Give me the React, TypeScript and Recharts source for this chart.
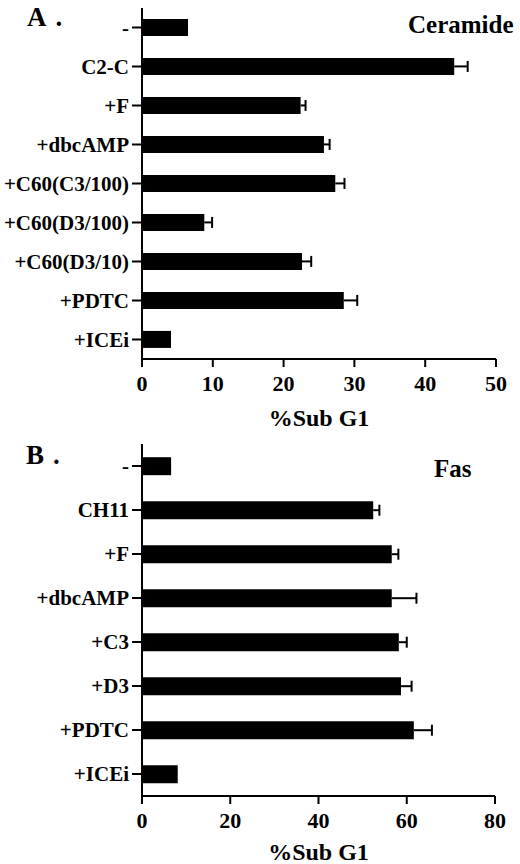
import React from "react";
import { BarChart, Bar, XAxis, YAxis, Label } from "recharts";

// Panel A: ceramide
const ceramideLabels = ["-", "C2-C", "+F", "+dbcAMP", "+C60(C3/100)", "+C60(D3/100)", "+C60(D3/10)", "+PDTC", "+ICEi"];
const ceramideValues = [6.5, 44.1, 22.4, 25.7, 27.3, 8.8, 22.6, 28.5, 4.1];
const ceramideErrors = [0, 1.9, 0.7, 0.8, 1.3, 1.1, 1.3, 1.9, 0];
const ceramideTicks = [0, 10, 20, 30, 40, 50];

// Panel B: Fas
const fasLabels = ["-", "CH11", "+F", "+dbcAMP", "+C3", "+D3", "+PDTC", "+ICEi"];
const fasValues = [6.6, 52.4, 56.6, 56.6, 58.2, 58.7, 61.6, 8.1];
const fasErrors = [0, 1.4, 1.5, 5.6, 1.8, 2.4, 4.1, 0];
const fasTicks = [0, 20, 40, 60, 80];

const font = "Liberation Serif, DejaVu Serif, Noto Serif, serif";

function buildRows(labels: string[], values: number[], errors: number[]) {
  return labels.map((name, i) => ({ name, value: values[i], err: errors[i] }));
}

// one-sided error bar: line from the bar end out to a vertical cap
function ErrorShape(props: any) {
  const { x, y, width, height } = props;
  if (!width || width <= 0) return null;
  const cy = y + height / 2;
  const end = x + width;
  return (
    <g stroke="#000" strokeWidth={2}>
      <line x1={x} y1={cy} x2={end} y2={cy} />
      <line x1={end} y1={cy - 5.5} x2={end} y2={cy + 5.5} />
    </g>
  );
}

type PanelProps = {
  rows: { name: string; value: number; err: number }[];
  ticks: number[];
  height: number;
  marginTop: number;
  marginRight: number;
  xAxisHeight: number;
  gap: string;
};

function Panel({ rows, ticks, height, marginTop, marginRight, xAxisHeight, gap }: PanelProps) {
  return (
    <BarChart
      width={520}
      height={height}
      data={rows}
      layout="vertical"
      margin={{ top: marginTop, right: marginRight, bottom: 0, left: 0 }}
      barCategoryGap={gap}
    >
      <XAxis
        type="number"
        domain={[ticks[0], ticks[ticks.length - 1]]}
        ticks={ticks}
        allowDataOverflow
        height={xAxisHeight}
        stroke="#000"
        strokeWidth={2}
        tickSize={8}
        tickMargin={8}
        tick={{ fill: "#000", fontSize: 22, fontWeight: 700, fontFamily: font }}
      >
        <Label
          value="%Sub G1"
          position="insideBottom"
          offset={4}
          style={{ fill: "#000", fontSize: 24, fontWeight: 700, fontFamily: font }}
        />
      </XAxis>
      <YAxis
        type="category"
        dataKey="name"
        width={142}
        stroke="#000"
        strokeWidth={2}
        tickSize={10}
        tickMargin={3}
        interval={0}
        tick={{ fill: "#000", fontSize: 21, fontWeight: 700, fontFamily: font }}
      />
      <Bar dataKey="value" stackId="s" fill="#000" isAnimationActive={false} />
      <Bar dataKey="err" stackId="s" fill="none" shape={<ErrorShape />} isAnimationActive={false} />
    </BarChart>
  );
}

const panelLetter: React.CSSProperties = {
  position: "absolute",
  fontFamily: font,
  fontWeight: 700,
  fontSize: 27,
  letterSpacing: 9,
  lineHeight: 1,
};

const panelTitle: React.CSSProperties = {
  position: "absolute",
  fontFamily: font,
  fontWeight: 700,
  fontSize: 25,
  lineHeight: 1,
};

export default function App() {
  return (
    <div style={{ position: "absolute", left: 0, top: 0, width: 520, height: 864, background: "#fff", overflow: "hidden" }}>
      <div style={{ position: "absolute", left: 0, top: 0 }}>
        <Panel
          rows={buildRows(ceramideLabels, ceramideValues, ceramideErrors)}
          ticks={ceramideTicks}
          height={430}
          marginTop={8}
          marginRight={24}
          xAxisHeight={71}
          gap="28%"
        />
      </div>
      <div style={{ position: "absolute", left: 0, top: 440 }}>
        <Panel
          rows={buildRows(fasLabels, fasValues, fasErrors)}
          ticks={fasTicks}
          height={424}
          marginTop={4}
          marginRight={25}
          xAxisHeight={68}
          gap="30%"
        />
      </div>
      <div style={{ ...panelLetter, left: 27, top: 4 }}>A.</div>
      <div style={{ ...panelTitle, left: 408, top: 12 }}>Ceramide</div>
      <div style={{ ...panelLetter, left: 26, top: 442 }}>B.</div>
      <div style={{ ...panelTitle, left: 434, top: 456 }}>Fas</div>
    </div>
  );
}
